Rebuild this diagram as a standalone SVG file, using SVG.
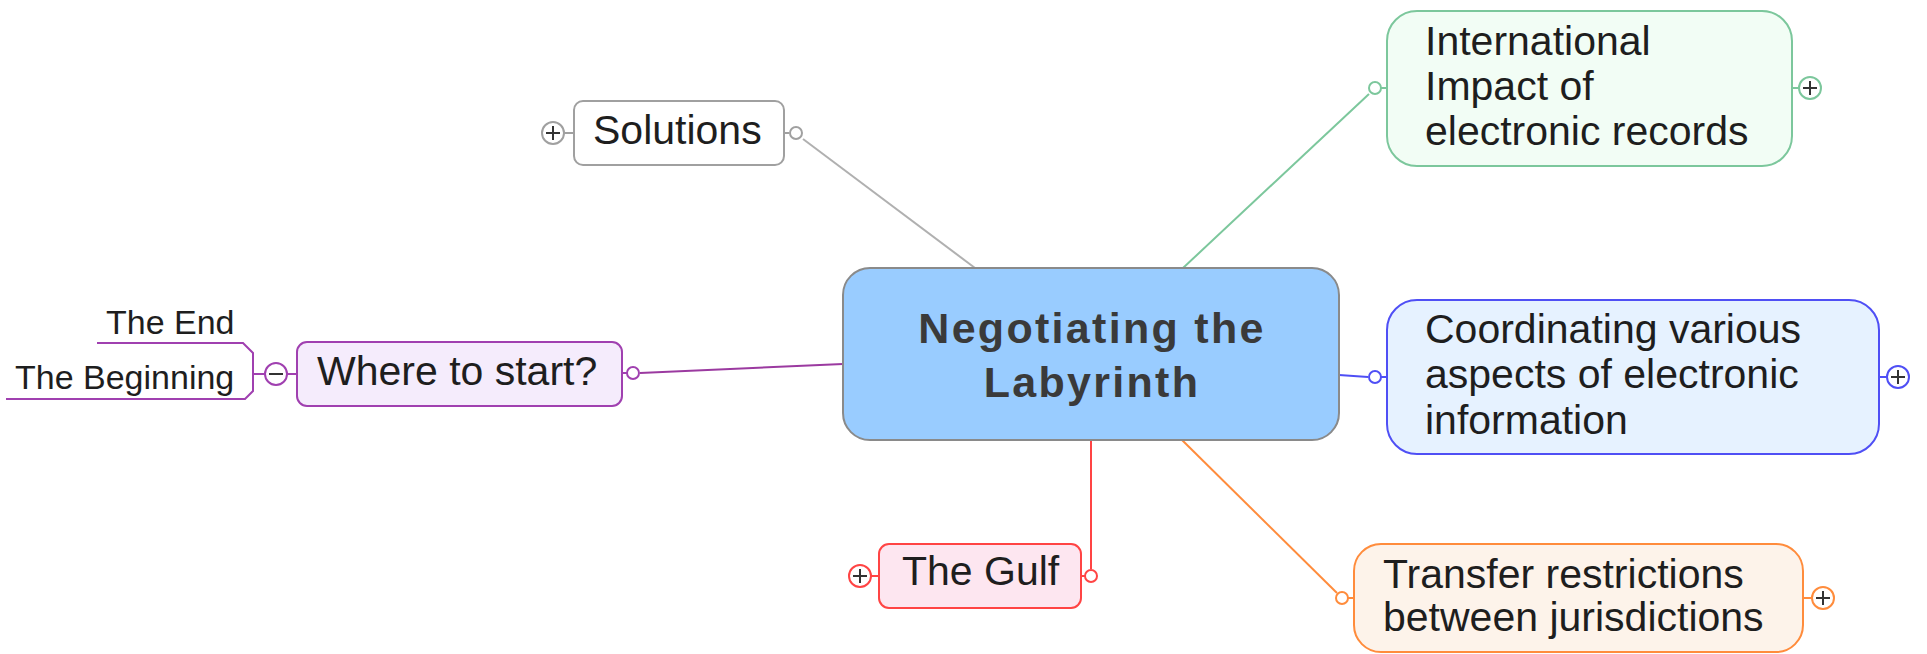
<svg xmlns="http://www.w3.org/2000/svg" width="1927" height="654" viewBox="0 0 1927 654">
<style>
  .t { font-family: "Liberation Sans", Arial, sans-serif; font-size: 41px; fill: #1e1e1e; }
  .c { font-family: "Liberation Sans", Arial, sans-serif; font-size: 34px; fill: #1e1e1e; }
  .main { font-family: "Liberation Sans", Arial, sans-serif; font-size: 43px; font-weight: bold; fill: #3a3a3a; letter-spacing: 2.3px; }
  .conn { fill: none; stroke-width: 2; }
  .dot { fill: #fff; stroke-width: 2; }
  .pm { stroke: #333; stroke-width: 2; fill: none; }
</style>
<rect width="1927" height="654" fill="#fff"/>

<g id="connectors">
  <line class="conn" x1="803" y1="139" x2="975" y2="268" stroke="#b0b0b0"/>
  <line class="conn" x1="1369" y1="94" x2="1183" y2="268" stroke="#7cc79c"/>
  <line class="conn" x1="1339" y1="375" x2="1368" y2="377" stroke="#4f4ff5"/>
  <line class="conn" x1="1091" y1="440" x2="1091" y2="569" stroke="#ff4444"/>
  <line class="conn" x1="1182" y1="440" x2="1337" y2="593" stroke="#ff8c3c"/>
  <line class="conn" x1="640" y1="373" x2="843" y2="364" stroke="#9b3aa0"/>
</g>

<g id="central">
  <rect x="843" y="268" width="496" height="172" rx="27" fill="#99ccff" stroke="#8a8a8a" stroke-width="2"/>
  <text class="main" x="1092" y="343" text-anchor="middle">Negotiating the</text>
  <text class="main" x="1092" y="397" text-anchor="middle">Labyrinth</text>
</g>

<g id="solutions">
  <rect x="574" y="101" width="210" height="64" rx="9" fill="#fff" stroke="#a0a0a0" stroke-width="2"/>
  <text class="t" x="593" y="144">Solutions</text>
  <line x1="784" y1="133" x2="789" y2="133" stroke="#a0a0a0" stroke-width="2"/>
  <circle class="dot" cx="796" cy="133" r="6" stroke="#a0a0a0"/>
  <line x1="564" y1="133" x2="574" y2="133" stroke="#a0a0a0" stroke-width="2"/>
  <circle class="dot" cx="553" cy="133" r="11" stroke="#a0a0a0"/>
  <path class="pm" d="M546 133h14M553 126v14"/>
</g>

<g id="where">
  <rect x="297" y="342" width="325" height="64" rx="10" fill="#f5ecfc" stroke="#a040b0" stroke-width="2"/>
  <text class="t" x="317" y="385">Where to start?</text>
  <line x1="622" y1="373" x2="627" y2="373" stroke="#a040b0" stroke-width="2"/>
  <circle class="dot" cx="633" cy="373" r="6" stroke="#a040b0"/>
  <line x1="287" y1="374" x2="297" y2="374" stroke="#a040b0" stroke-width="2"/>
  <circle class="dot" cx="276" cy="374" r="11" stroke="#a040b0"/>
  <path class="pm" d="M269 374h14"/>
  <path d="M97 343H243L253 353V391L245 399H6M253 374H265" fill="none" stroke="#a040b0" stroke-width="2"/>
</g>

<g id="the-end">
  <text class="c" x="106" y="334">The End</text>
</g>

<g id="the-beginning">
  <text class="c" x="15" y="389">The Beginning</text>
</g>

<g id="international">
  <rect x="1387" y="11" width="405" height="155" rx="30" fill="#f2fdf5" stroke="#7cc79c" stroke-width="2"/>
  <text class="t" x="1425" y="55">International</text>
  <text class="t" x="1425" y="100">Impact of</text>
  <text class="t" x="1425" y="145">electronic records</text>
  <line x1="1381" y1="88" x2="1387" y2="88" stroke="#7cc79c" stroke-width="2"/>
  <circle class="dot" cx="1375" cy="88" r="6" stroke="#7cc79c"/>
  <line x1="1792" y1="88" x2="1799" y2="88" stroke="#7cc79c" stroke-width="2"/>
  <circle class="dot" cx="1810" cy="88" r="11" stroke="#7cc79c"/>
  <path class="pm" d="M1803 88h14M1810 81v14"/>
</g>

<g id="coordinating">
  <rect x="1387" y="300" width="492" height="154" rx="30" fill="#e6f2ff" stroke="#4f4ff5" stroke-width="2"/>
  <text class="t" x="1425" y="343">Coordinating various</text>
  <text class="t" x="1425" y="388">aspects of electronic</text>
  <text class="t" x="1425" y="434">information</text>
  <line x1="1381" y1="377" x2="1387" y2="377" stroke="#4f4ff5" stroke-width="2"/>
  <circle class="dot" cx="1375" cy="377" r="6" stroke="#4f4ff5"/>
  <line x1="1879" y1="377" x2="1887" y2="377" stroke="#4f4ff5" stroke-width="2"/>
  <circle class="dot" cx="1898" cy="377" r="11" stroke="#4f4ff5"/>
  <path class="pm" d="M1891 377h14M1898 370v14"/>
</g>

<g id="gulf">
  <rect x="879" y="544" width="202" height="64" rx="10" fill="#fde6f0" stroke="#ff4444" stroke-width="2"/>
  <text class="t" x="902" y="585">The Gulf</text>
  <line x1="1081" y1="576" x2="1085" y2="576" stroke="#ff4444" stroke-width="2"/>
  <circle class="dot" cx="1091" cy="576" r="6" stroke="#ff4444"/>
  <line x1="871" y1="576" x2="879" y2="576" stroke="#ff4444" stroke-width="2"/>
  <circle class="dot" cx="860" cy="576" r="11" stroke="#ff4444"/>
  <path class="pm" d="M853 576h14M860 569v14"/>
</g>

<g id="transfer">
  <rect x="1354" y="544" width="449" height="108" rx="27" fill="#fdf3ea" stroke="#ff8c3c" stroke-width="2"/>
  <text class="t" x="1383" y="588">Transfer restrictions</text>
  <text class="t" x="1383" y="631">between jurisdictions</text>
  <line x1="1348" y1="598" x2="1354" y2="598" stroke="#ff8c3c" stroke-width="2"/>
  <circle class="dot" cx="1342" cy="598" r="6" stroke="#ff8c3c"/>
  <line x1="1803" y1="598" x2="1812" y2="598" stroke="#ff8c3c" stroke-width="2"/>
  <circle class="dot" cx="1823" cy="598" r="11" stroke="#ff8c3c"/>
  <path class="pm" d="M1816 598h14M1823 591v14"/>
</g>
</svg>
